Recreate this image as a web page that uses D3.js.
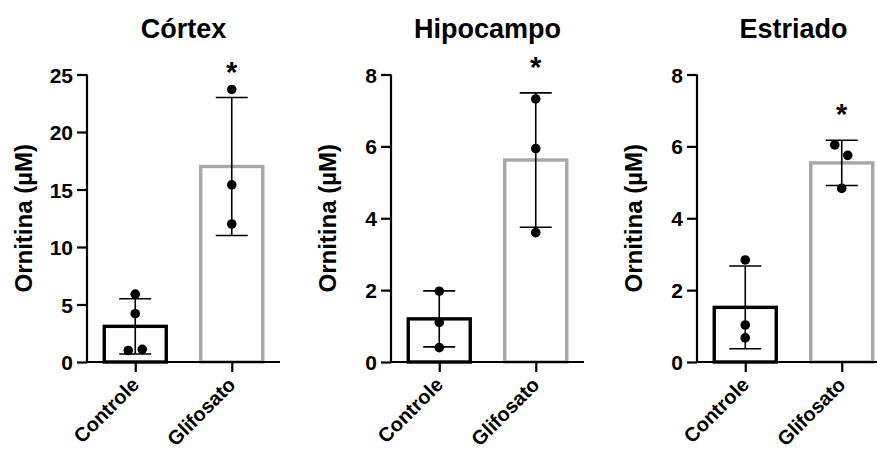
<!DOCTYPE html>
<html><head><meta charset="utf-8">
<script src="https://cdn.jsdelivr.net/npm/d3@7"></script>
<style>
html,body{margin:0;padding:0;background:#fff;}
svg{display:block;font-family:"Liberation Sans",Arial,sans-serif;}
</style></head>
<body>
<svg id="chart" width="877" height="453"></svg>
<script>
// ---- data ----
const regions = ["Córtex", "Hipocampo", "Estriado"];
const categories = ["Controle", "Glifosato"];
const yLabel = "Ornitina (µM)";
const sigMark = "*";
const yMaxes = [25, 8, 8];
const cortexTicks = [0, 5, 10, 15, 20, 25];
const hipoTicks = [0, 2, 4, 6, 8];
const estriTicks = [0, 2, 4, 6, 8];

const cortexMean = [3.1, 17.0];
const cortexSD = [2.4, 6.0];
const cortexControle = [5.9, 4.2, 1.0, 1.1];
const cortexGlifosato = [23.7, 15.4, 12.0];

const hipoMean = [1.2, 5.62];
const hipoSD = [0.78, 1.87];
const hipoControle = [1.97, 1.1, 0.4];
const hipoGlifosato = [7.32, 5.94, 3.6];

const estriMean = [1.52, 5.54];
const estriSD = [1.15, 0.63];
const estriControle = [2.84, 1.03, 0.67];
const estriGlifosato = [6.04, 5.75, 4.83];

const panels = [
  {title: regions[0], yMax: yMaxes[0], ticks: cortexTicks, mean: cortexMean, sd: cortexSD, pts: [cortexControle, cortexGlifosato]},
  {title: regions[1], yMax: yMaxes[1], ticks: hipoTicks, mean: hipoMean, sd: hipoSD, pts: [hipoControle, hipoGlifosato]},
  {title: regions[2], yMax: yMaxes[2], ticks: estriTicks, mean: estriMean, sd: estriSD, pts: [estriControle, estriGlifosato]}
];

// ---- layout ----
const axisLeft = [87, 391, 697];
const axisWidth = 193;
const yBottom = 362, yTop = 74.5;
const barColors = ["#000000", "#a8a8a8"];
const svg = d3.select("#chart");

panels.forEach((p, i) => {
  const x0 = axisLeft[i];
  const x = d3.scalePoint().domain(categories).range([x0, x0 + axisWidth]).padding(0.5);
  const y = d3.scaleLinear().domain([0, p.yMax]).range([yBottom, yTop]);
  const g = svg.append("g");
  const barW = 62;

  // bars
  g.selectAll("rect.bar").data(categories).enter().append("rect")
    .attr("x", d => x(d) - barW / 2)
    .attr("y", (d, k) => y(p.mean[k]))
    .attr("width", barW)
    .attr("height", (d, k) => y(0) - y(p.mean[k]))
    .attr("fill", "#fff")
    .attr("stroke", (d, k) => barColors[k])
    .attr("stroke-width", 3.4);

  // error bars
  categories.forEach((c, k) => {
    const cx = x(c);
    const hi = y(p.mean[k] + p.sd[k]), lo = y(p.mean[k] - p.sd[k]);
    g.append("line").attr("x1", cx).attr("x2", cx).attr("y1", hi).attr("y2", lo)
      .attr("stroke", "#000").attr("stroke-width", 1.6);
    [hi, lo].forEach(v => g.append("line").attr("x1", cx - 16).attr("x2", cx + 16)
      .attr("y1", v).attr("y2", v).attr("stroke", "#000").attr("stroke-width", 1.6));
  });

  // points with simple dodge for overlapping ones
  categories.forEach((c, k) => {
    const vals = p.pts[k];
    const py = vals.map(v => y(v));
    const offs = vals.map(() => 0);
    for (let a = 0; a < vals.length; a++) {
      for (let b = a + 1; b < vals.length; b++) {
        if (Math.abs(py[a] - py[b]) < 12 && offs[a] === 0 && offs[b] === 0) {
          offs[vals[a] < vals[b] ? b : a] = (i === 0) ? 7 : -7;
          offs[vals[a] < vals[b] ? a : b] = (i === 0) ? -7 : 6;
        }
      }
    }
    g.selectAll(null).data(vals).enter().append("circle")
      .attr("cx", (d, j) => x(c) + offs[j])
      .attr("cy", d => y(d))
      .attr("r", 4.8)
      .attr("fill", "#000");
  });

  // axes
  const yAxis = d3.axisLeft(y).tickValues(p.ticks).tickSize(10).tickPadding(4).tickFormat(d3.format("d"));
  const ya = g.append("g").attr("transform", `translate(${x0},0)`).call(yAxis);
  ya.select(".domain").attr("d", `M0,${yTop}V${yBottom}`).attr("stroke-width", 2.2).attr("stroke", "#000");
  ya.selectAll(".tick line").attr("stroke-width", 2.2);
  ya.selectAll(".tick text").attr("font-size", 21).attr("font-weight", "bold").attr("fill", "#000").attr("dy", "0.36em");

  const xAxis = d3.axisBottom(x).tickSize(10).tickFormat("");
  const xa = g.append("g").attr("transform", `translate(0,${yBottom})`).call(xAxis);
  xa.select(".domain").attr("d", `M${x0 - 1},0H${x0 + axisWidth}`).attr("stroke-width", 2.2).attr("stroke", "#000");
  xa.selectAll(".tick line").attr("stroke-width", 2.2);

  g.selectAll("text.xlab").data(categories).enter().append("text")
    .attr("transform", d => `translate(${x(d) + 5},${yBottom + 24}) rotate(-45)`)
    .attr("text-anchor", "end")
    .attr("font-size", 20).attr("font-weight", "bold").attr("fill", "#000")
    .text(d => d);

  // y label
  g.append("text")
    .attr("transform", `translate(${x0 - 55},${(yTop + yBottom) / 2}) rotate(-90)`)
    .attr("text-anchor", "middle")
    .attr("font-size", 24).attr("font-weight", "bold").attr("fill", "#000")
    .text(yLabel);

  // title
  g.append("text")
    .attr("x", x0 + axisWidth / 2).attr("y", 38)
    .attr("text-anchor", "middle")
    .attr("font-size", 27).attr("font-weight", "bold").attr("fill", "#000")
    .text(p.title);

  // significance mark over Glifosato
  const gl = categories[1];
  const topVal = p.mean[1] + p.sd[1];
  g.append("text")
    .attr("x", x(gl)).attr("y", y(topVal) - 16)
    .attr("text-anchor", "middle")
    .attr("font-size", 29).attr("font-weight", "bold").attr("fill", "#000")
    .text(sigMark);
});
</script>
</body></html>
